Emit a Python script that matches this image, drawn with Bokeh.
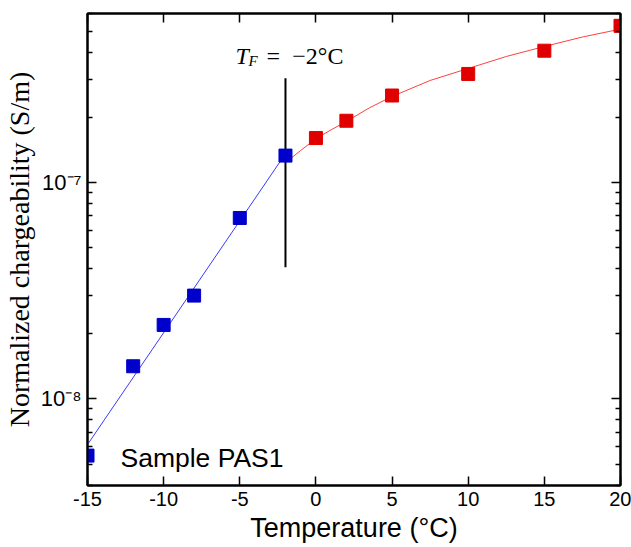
from bokeh.plotting import figure
from bokeh.models import Range1d, FixedTicker, LogAxis, LinearAxis, Label
from bokeh.embed import file_html
from bokeh.resources import INLINE

# ---- data ----
temp_frozen = [-15, -12, -10, -8, -5, -2]
charg_frozen = [5.47e-9, 1.415e-8, 2.196e-8, 3.0e-8, 6.85e-8, 1.33e-7]
temp_thawed = [0, 2, 5, 10, 15, 20]
charg_thawed = [1.603e-7, 1.927e-7, 2.52e-7, 3.17e-7, 4.06e-7, 5.29e-7]

fit_frozen_t = [-15, -2]
fit_frozen_c = [6.15e-9, 1.357e-7]
fit_thawed_t = [-2, -1, 0, 1, 2, 3.5, 5, 7.5, 10, 12.5, 15, 17.5, 20]
fit_thawed_c = [1.233e-7, 1.405e-7, 1.591e-7, 1.751e-7, 1.912e-7, 2.208e-7,
                2.495e-7, 2.958e-7, 3.36e-7, 3.817e-7, 4.245e-7, 4.696e-7, 5.108e-7]

tf_temp = -2
tf_line = [4.06e-8, 3.03e-7]
tf_label_level = 3.52e-7
sample_level = 4.92e-9

x_ticks = [-15, -10, -5, 0, 5, 10, 15, 20]
x_tick_labels = ["-15", "-10", "-5", "0", "5", "10", "15", "20"]
y_ticks = [1e-8, 1e-7]
y_tick_labels = ["10⁻⁸", "10⁻⁷"]
y_minor = [4e-9, 5e-9, 6e-9, 7e-9, 8e-9, 9e-9,
           2e-8, 3e-8, 4e-8, 5e-8, 6e-8, 7e-8, 8e-8, 9e-8,
           2e-7, 3e-7, 4e-7, 5e-7, 6e-7]

SANS = "Liberation Sans"
SERIF = "Liberation Serif"

p = figure(width=631, height=547,
           x_range=Range1d(-15, 20), y_range=Range1d(3.98e-9, 6.03e-7),
           y_axis_type="log", output_backend="svg", toolbar_location=None,
           min_border_left=87, min_border_right=11, min_border_top=13, min_border_bottom=62)
p.xgrid.visible = False
p.ygrid.visible = False
p.outline_line_color = "black"
p.outline_line_width = 2
p.background_fill_color = "white"
p.border_fill_color = "white"

def style_axis(ax):
    ax.axis_line_color = "black"
    ax.axis_line_width = 2
    ax.major_tick_line_color = "black"
    ax.major_tick_line_width = 1.5
    ax.minor_tick_line_color = "black"
    ax.minor_tick_line_width = 1.5
    ax.major_tick_in = 9
    ax.major_tick_out = 0
    ax.minor_tick_in = 5
    ax.minor_tick_out = 0

def hide_labels(ax):
    ax.major_label_text_font_size = "1px"
    ax.major_label_text_alpha = 0
    ax.major_label_standoff = 0

# bottom x axis
xa = p.xaxis[0]
xa.ticker = FixedTicker(ticks=x_ticks, minor_ticks=[])
xa.major_label_overrides = dict(zip(x_ticks, x_tick_labels))
style_axis(xa)
xa.major_label_text_font = SANS
xa.major_label_text_font_size = "20px"
xa.major_label_text_color = "black"
xa.major_label_standoff = 6
xa.axis_label = "Temperature (°C)"
xa.axis_label_text_font = SANS
xa.axis_label_text_font_size = "27px"
xa.axis_label_text_font_style = "normal"
xa.axis_label_text_color = "black"
xa.axis_label_standoff = 4

# left y axis
ya = p.yaxis[0]
ya.ticker = FixedTicker(ticks=y_ticks, minor_ticks=y_minor)
ya.major_label_overrides = dict(zip(y_ticks, y_tick_labels))
style_axis(ya)
ya.major_label_text_font = SANS
ya.major_label_text_font_size = "22px"
ya.major_label_text_color = "black"
ya.major_label_standoff = 6
ya.axis_label = "Normalized chargeability (S/m)"
ya.axis_label_text_font = SERIF
ya.axis_label_text_font_size = "28px"
ya.axis_label_text_font_style = "normal"
ya.axis_label_text_color = "black"
ya.axis_label_standoff = 3

# top and right mirror axes
top = LinearAxis(ticker=FixedTicker(ticks=x_ticks, minor_ticks=[]))
style_axis(top)
hide_labels(top)
p.add_layout(top, "above")
right = LogAxis(ticker=FixedTicker(ticks=y_ticks, minor_ticks=y_minor))
style_axis(right)
hide_labels(right)
p.add_layout(right, "right")

# fits
p.line(fit_frozen_t, fit_frozen_c, line_color="#3a3aff", line_width=1)
p.line(fit_thawed_t, fit_thawed_c, line_color="#ff4040", line_width=1)

# freezing temperature marker
p.line([tf_temp, tf_temp], tf_line, line_color="black", line_width=2)

# data points
p.scatter(temp_frozen, charg_frozen, marker="square", size=13,
          fill_color="#0000cc", line_color="#0000cc")
p.scatter(temp_thawed, charg_thawed, marker="square", size=13,
          fill_color="#e00000", line_color="#e00000")

# T_F = -2°C annotation
p.add_layout(Label(x=tf_temp, y=tf_label_level, x_offset=-50, y_offset=8, text="T",
                   text_align="left", text_baseline="alphabetic",
                   text_font=SERIF, text_font_style="italic",
                   text_font_size="24px", text_color="black"))
p.add_layout(Label(x=tf_temp, y=tf_label_level, x_offset=-37, y_offset=3, text="F",
                   text_align="left", text_baseline="alphabetic",
                   text_font=SERIF, text_font_style="italic",
                   text_font_size="15px", text_color="black"))
p.add_layout(Label(x=tf_temp, y=tf_label_level, x_offset=-19, y_offset=8, text="=",
                   text_align="left", text_baseline="alphabetic",
                   text_font=SERIF, text_font_size="24px", text_color="black"))
p.add_layout(Label(x=tf_temp, y=tf_label_level, x_offset=58, y_offset=8, text="−2°C",
                   text_align="right", text_baseline="alphabetic",
                   text_font=SERIF, text_font_size="24px", text_color="black"))

# sample name
p.add_layout(Label(x=-15, y=sample_level, x_offset=33, y_offset=8, text="Sample PAS1",
                   text_align="left", text_baseline="alphabetic",
                   text_font=SANS, text_font_size="26.5px", text_color="black"))

open("out.html", "w").write(file_html(p, INLINE))
